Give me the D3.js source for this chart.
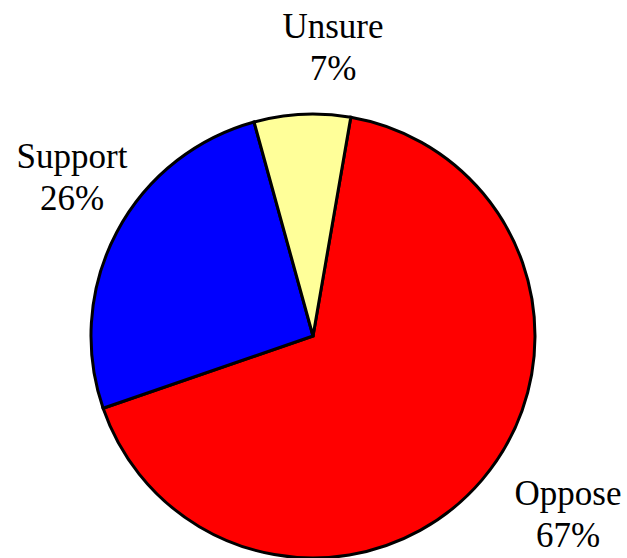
<!DOCTYPE html>
<html>
<head>
<meta charset="utf-8">
<script src="https://cdn.jsdelivr.net/npm/d3@7"></script>
<style>
  body { margin: 0; background: #fff; }
  svg { display: block; }
</style>
</head>
<body>
<svg id="chart"></svg>
<script>
// data
const categories = ["Oppose", "Support", "Unsure"];
const shares = [67, 26, 7];
const colors = ["#ff0000", "#0000ff", "#ffff99"];

const width = 627, height = 558;
const cx = 313, cy = 336, radius = 222;
// first slice starts a little clockwise of 12 o'clock
const startAngle = 9.8 * Math.PI / 180;

// label anchors (baseline of the first text line), per category
const labelPos = {
    Oppose: [568, 505],
    Support: [72, 168],
    Unsure: [333, 38]
};

const svg = d3.select("#chart")
    .attr("width", width)
    .attr("height", height);

const pie = d3.pie()
    .sort(null)
    .value(d => d.value)
    .startAngle(startAngle)
    .endAngle(startAngle + 2 * Math.PI);

const arc = d3.arc().innerRadius(0).outerRadius(radius);

const slices = pie(categories.map((c, i) => ({ name: c, value: shares[i], color: colors[i] })));

const g = svg.append("g").attr("transform", `translate(${cx},${cy})`);

g.selectAll("path")
    .data(slices)
    .join("path")
    .attr("d", arc)
    .attr("fill", d => d.data.color)
    .attr("stroke", "#000")
    .attr("stroke-width", 3)
    .attr("stroke-linejoin", "miter");

const labels = svg.append("g")
    .attr("font-family", "'Liberation Serif', 'Times New Roman', serif")
    .attr("font-size", 35)
    .attr("fill", "#000")
    .attr("text-anchor", "middle");

slices.forEach(d => {
    const [x, y] = labelPos[d.data.name];
    const t = labels.append("text").attr("x", x).attr("y", y);
    t.append("tspan").attr("x", x).attr("dy", 0).text(d.data.name);
    t.append("tspan").attr("x", x).attr("dy", 42).text(d.data.value + "%");
});
</script>
</body>
</html>
